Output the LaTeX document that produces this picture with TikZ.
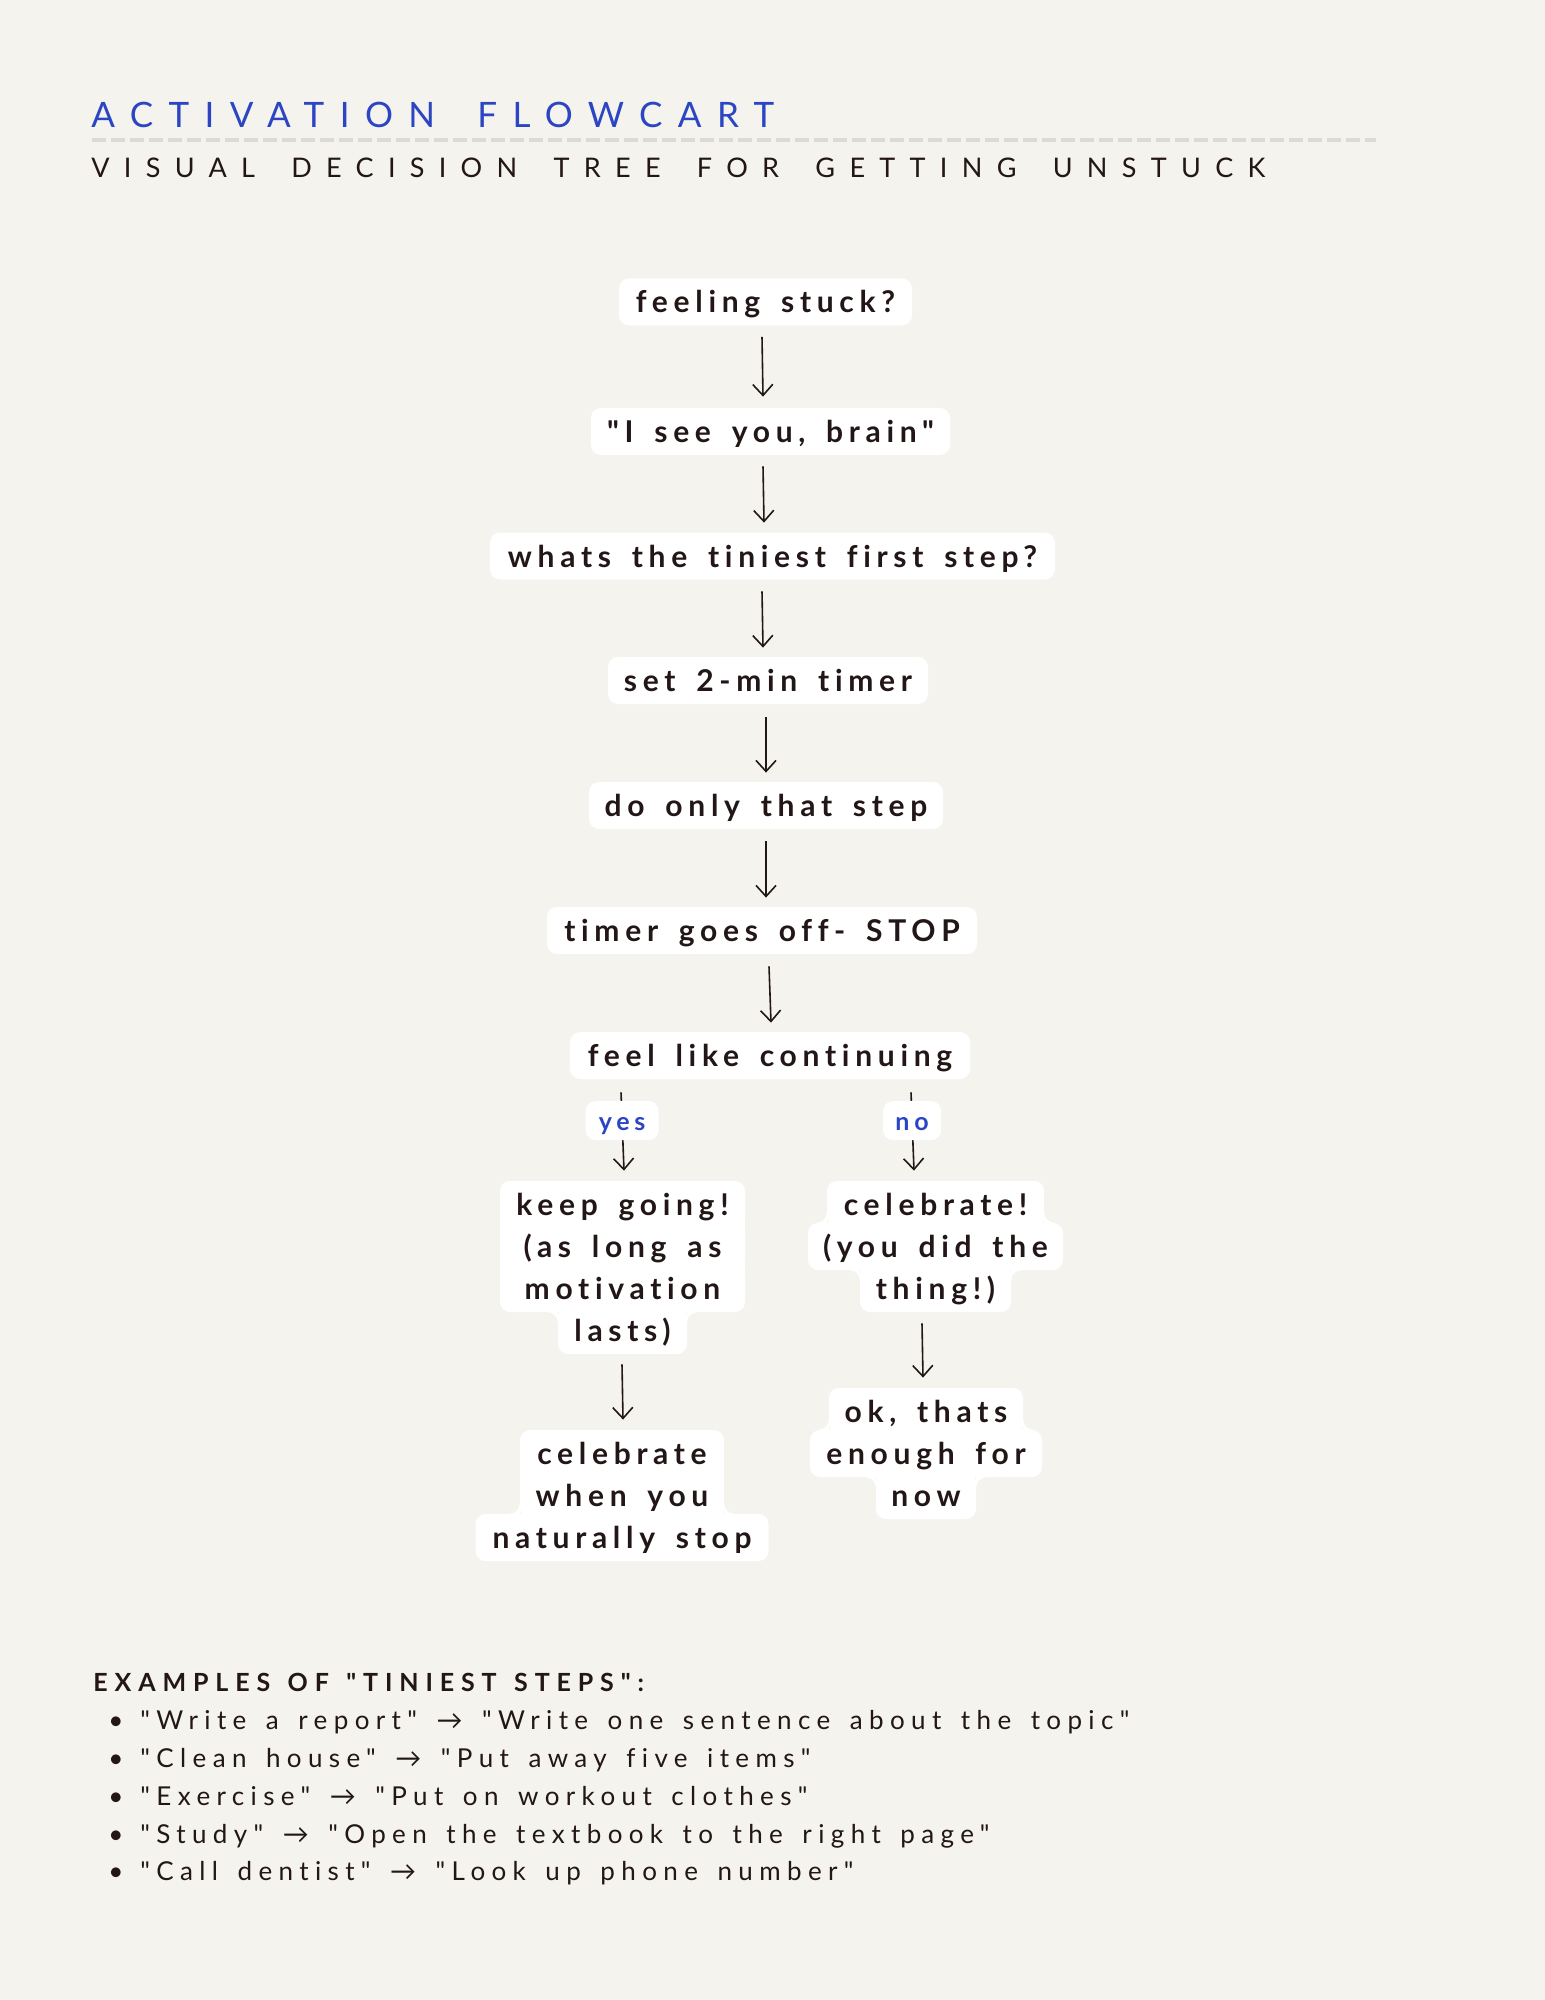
\documentclass[tikz,border=0pt]{standalone}
\usepackage{fontspec}
\setmainfont{Lato}[Ligatures=NoCommon]
\newfontfamily\nodefont[LetterSpace=19,WordSpace=1.6,Ligatures=NoCommon]{Lato}
\newfontfamily\titlefont[LetterSpace=44,WordSpace=1.73,Ligatures=NoCommon]{Lato}
\newfontfamily\subfont[LetterSpace=53,WordSpace=1.71,Ligatures=NoCommon]{Lato}
\newfontfamily\exfont[LetterSpace=27.5,WordSpace=1.35,Ligatures=NoCommon]{Lato}
\newfontfamily\rowfont[LetterSpace=24.5,WordSpace=1.5,Ligatures=NoCommon]{Lato}
\newfontfamily\symfont{Lato}
\usetikzlibrary{arrows.meta,backgrounds,calc}
\definecolor{bg}{HTML}{F5F3EE}
\definecolor{ink}{HTML}{221716}
\definecolor{accent}{HTML}{2B45C3}
\definecolor{dashcol}{HTML}{DCDAD5}
\newcommand\fillet[3]{%
  \fill[white] (#1) rectangle ($(#1)+(#2*10,#3*10)$);
  \fill[bg] ($(#1)+(#2*10,#3*10)$) circle[radius=5pt];}
\begin{document}
\begin{tikzpicture}[x=0.5pt,y=-0.5pt,
  box/.style={fill=white, rounded corners=5pt, inner sep=0pt,
    minimum height=23.5pt, text height=12pt, text depth=1pt,
    font=\nodefont\bfseries\fontsize{15}{18}\selectfont, text=ink},
  lab/.style={fill=white, rounded corners=5pt, inner sep=0pt,
    minimum height=19.5pt, text height=10.5pt, text depth=1pt,
    font=\nodefont\bfseries\fontsize{12.5}{15}\selectfont, text=accent},
  arr/.style={draw=ink, line width=0.8pt, -{Straight Barb[length=5.5pt,width=10pt,line width=0.8pt]}},
  txt/.style={inner sep=0pt, anchor=base west}]

% header
\node[txt, font=\titlefont\fontsize{17.5}{20}\selectfont, text=accent] (title) at (91,128) {ACTIVATION FLOWCART};
\coordinate (dashL) at (92,140);
\coordinate (dashR) at (1376,140);
\draw[dashcol, line width=2pt, dash pattern=on 7pt off 2.5pt] (dashL) -- (dashR);
\node[txt, font=\subfont\fontsize{13.5}{16}\selectfont, text=ink] (subtitle) at (91,178) {VISUAL DECISION TREE FOR GETTING UNSTUCK};

% main chain
\node[box, minimum width=146.5pt] (n1) at (765.5,302) {feeling stuck?};
\node[box, minimum width=179.5pt] (n2) at (770.5,431.5) {"I see you, brain"};
\node[box, minimum width=282.5pt] (n3) at (772.5,556) {whats the tiniest first step?};
\node[box, minimum width=160pt] (n4) at (768,680.5) {set 2-min timer};
\node[box, minimum width=177pt] (n5) at (766,805.5) {do only that step};
\node[box, minimum width=215pt] (n6) at (762,930.5) {timer goes off- STOP};
\node[box, minimum width=200pt] (n7) at (770,1055.5) {feel like continuing};

% yes branch
\node[box, minimum width=122.5pt] (kg1) at (622.5,1204.5) {keep going!};
\node[box, minimum width=122.5pt] (kg2) at (622.5,1246.5) {(as long as};
\node[box, minimum width=122.5pt] (kg3) at (622.5,1288.5) {motivation};
\node[box, minimum width=64.5pt] (kg4) at (622.5,1330.5) {lasts)};
\node[box, minimum width=102pt] (cw1) at (622,1453.5) {celebrate};
\node[box, minimum width=102pt] (cw2) at (622,1495.5) {when you};
\node[box, minimum width=146.5pt] (cw3) at (622,1537.5) {naturally stop};

% no branch
\node[box, minimum width=108.5pt] (cb1) at (935.5,1204.5) {celebrate!};
\node[box, minimum width=127.5pt] (cb2) at (935.5,1246.5) {(you did the};
\node[box, minimum width=75.5pt] (cb3) at (935.5,1288.5) {thing!)};
\node[box, minimum width=97pt] (ok1) at (926,1411.5) {ok, thats};
\node[box, minimum width=116pt] (ok2) at (926,1453.5) {enough for};
\node[box, minimum width=50pt] (ok3) at (926,1495.5) {now};

% connectors
\draw[arr] ([xshift=-1.75pt,yshift=-5.5pt]n1.south) -- ([xshift=-3.75pt,yshift=5.5pt]n2.north);
\draw[arr] ([xshift=-3.75pt,yshift=-5.5pt]n2.south) -- ([xshift=-4.25pt,yshift=4.75pt]n3.north);
\draw[arr] ([xshift=-5.25pt,yshift=-5.75pt]n3.south) -- ([xshift=-2.5pt,yshift=4.5pt]n4.north);
\draw[arr] ([xshift=-1pt,yshift=-6.5pt]n4.south) -- ([yshift=4.5pt]n5.north);
\draw[arr] ([yshift=-6pt]n5.south) -- ([xshift=2pt,yshift=4.5pt]n6.north);
\draw[arr] ([xshift=3.5pt,yshift=-6pt]n6.south) -- ([xshift=0.5pt,yshift=4.5pt]n7.north);
\draw[arr] ([xshift=-74.5pt,yshift=-6.5pt]n7.south) -- node[lab, pos=0.36, minimum width=36.5pt] (yes) {yes} ([xshift=0.75pt,yshift=5pt]kg1.north);
\draw[arr] ([xshift=70.5pt,yshift=-6.5pt]n7.south) -- node[lab, pos=0.36, minimum width=29pt] (no) {no} ([xshift=-10.75pt,yshift=5pt]cb1.north);
\draw[arr] ([xshift=-0.25pt,yshift=-5pt]kg4.south) -- ([xshift=0.5pt,yshift=5pt]cw1.north);
\draw[arr] ([xshift=-6.75pt,yshift=-5.5pt]cb3.south) -- ([xshift=-1.5pt,yshift=5pt]ok1.north);

% examples
\node[txt, font=\exfont\bfseries\fontsize{12.5}{15}\selectfont, text=ink] (ex0) at (93,1691) {EXAMPLES OF "TINIEST STEPS":};
\foreach \i/\y/\a/\b in {1/1729/Write a report/Write one sentence about the topic,
                         2/1767/Clean house/Put away five items,
                         3/1805/Exercise/Put on workout clothes,
                         4/1843/Study/Open the textbook to the right page,
                         5/1880/Call dentist/Look up phone number}{
  \node[txt, font=\fontsize{13}{16}\selectfont, text=ink] (bul\i) at (108,\y) {•};
  \node[txt, font=\rowfont\fontsize{13}{16}\selectfont, text=ink] (ex\i) at (140,\y) {"\a" {\symfont\fontsize{13}{16}\selectfont →} "\b"};
}

\begin{pgfonlayer}{background}
  \fill[bg] (0,0) rectangle (1545,2000);
  % bridges between equal-width lines
  \fill[white] ([yshift=-6pt]kg1.south west) rectangle ([yshift=6pt]kg2.north east);
  \fill[white] ([yshift=-6pt]kg2.south west) rectangle ([yshift=6pt]kg3.north east);
  \fill[white] ([yshift=-6pt]cw1.south west) rectangle ([yshift=6pt]cw2.north east);
  % concave fillets
  \fillet{kg4.west |- kg3.south}{-1}{1}
  \fillet{kg4.east |- kg3.south}{1}{1}
  \fillet{cw2.west |- cw3.north}{-1}{-1}
  \fillet{cw2.east |- cw3.north}{1}{-1}
  \fillet{cb1.west |- cb2.north}{-1}{-1}
  \fillet{cb1.east |- cb2.north}{1}{-1}
  \fillet{cb3.west |- cb2.south}{-1}{1}
  \fillet{cb3.east |- cb2.south}{1}{1}
  \fillet{ok1.west |- ok2.north}{-1}{-1}
  \fillet{ok1.east |- ok2.north}{1}{-1}
  \fillet{ok3.west |- ok2.south}{-1}{1}
  \fillet{ok3.east |- ok2.south}{1}{1}
\end{pgfonlayer}
\end{tikzpicture}
\end{document}
